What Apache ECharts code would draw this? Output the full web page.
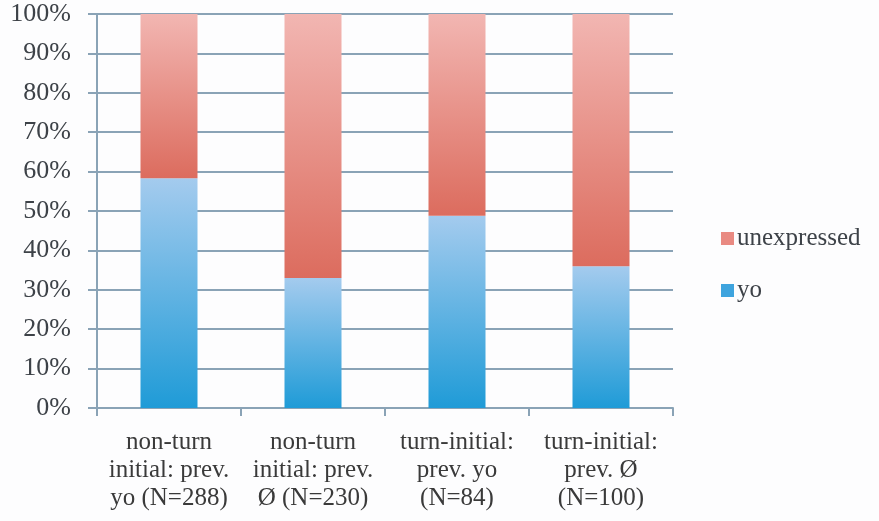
<!DOCTYPE html>
<html>
<head>
<meta charset="utf-8">
<script src="https://cdn.jsdelivr.net/npm/echarts@6/dist/echarts.min.js"></script>
<style>
  html, body { margin: 0; padding: 0; background: #fdfdfe; }
  #chart { width: 879px; height: 521px; }
</style>
</head>
<body>
<div id="chart"></div>
<script>
// Share of subject expression by turn position and previous mention (percent)
const categories = [
  'non-turn\ninitial: prev.\nyo (N=288)',
  'non-turn\ninitial: prev.\nØ (N=230)',
  'turn-initial:\nprev. yo\n(N=84)',
  'turn-initial:\nprev. Ø\n(N=100)'
];
const yoValues = [58.3, 33.0, 48.8, 36.0];
const unexpressedValues = [41.7, 67.0, 51.2, 64.0];
const yTicks = [0, 10, 20, 30, 40, 50, 60, 70, 80, 90, 100];

const fontFamily = '"Liberation Serif", "DejaVu Serif", serif';
const axisColor = '#8aa3b6';

function grad(top, bottom) {
  return new echarts.graphic.LinearGradient(0, 0, 0, 1, [
    { offset: 0, color: top },
    { offset: 1, color: bottom }
  ]);
}

const chart = echarts.init(document.getElementById('chart'));
chart.setOption({
  backgroundColor: '#fdfdfe',
  animation: false,
  grid: { left: 97, right: 206, top: 14, bottom: 113, containLabel: false },
  legend: {
    orient: 'vertical',
    left: 716,
    top: 221,
    itemWidth: 13,
    itemHeight: 13,
    itemGap: 27,
    icon: 'rect',
    data: [
      { name: 'unexpressed', itemStyle: { color: '#e98a82' } },
      { name: 'yo', itemStyle: { color: '#3ea4de' } }
    ],
    textStyle: { fontFamily, fontSize: 25, color: '#3d4248', padding: [0, 0, 0, -2] }
  },
  xAxis: {
    type: 'category',
    data: categories,
    axisLine: { lineStyle: { color: axisColor, width: 2 } },
    axisTick: { show: true, interval: 0, length: 8, lineStyle: { color: axisColor, width: 2 } },
    axisLabel: {
      interval: 0,
      fontFamily, fontSize: 25, color: '#3a3a3a', lineHeight: 28, margin: 20,
      align: 'center'
    }
  },
  yAxis: {
    type: 'value',
    min: 0,
    max: 100,
    interval: 10,
    axisLine: { show: true, lineStyle: { color: axisColor, width: 2 } },
    axisTick: { show: true, length: 9, lineStyle: { color: axisColor, width: 2 } },
    splitLine: { show: true, lineStyle: { color: axisColor, width: 2 } },
    axisLabel: {
      fontFamily, fontSize: 26, color: '#3d4248', margin: 26,
      formatter: v => (yTicks.includes(v) ? v + '%' : '')
    }
  },
  series: [
    {
      name: 'yo',
      type: 'bar',
      stack: 'total',
      barWidth: 57,
      data: yoValues,
      itemStyle: { color: grad('#a4cbee', '#1f9bd7') }
    },
    {
      name: 'unexpressed',
      type: 'bar',
      stack: 'total',
      barWidth: 57,
      data: unexpressedValues,
      itemStyle: { color: grad('#f2b6b2', '#dc6c5e') }
    }
  ]
});
</script>
</body>
</html>
